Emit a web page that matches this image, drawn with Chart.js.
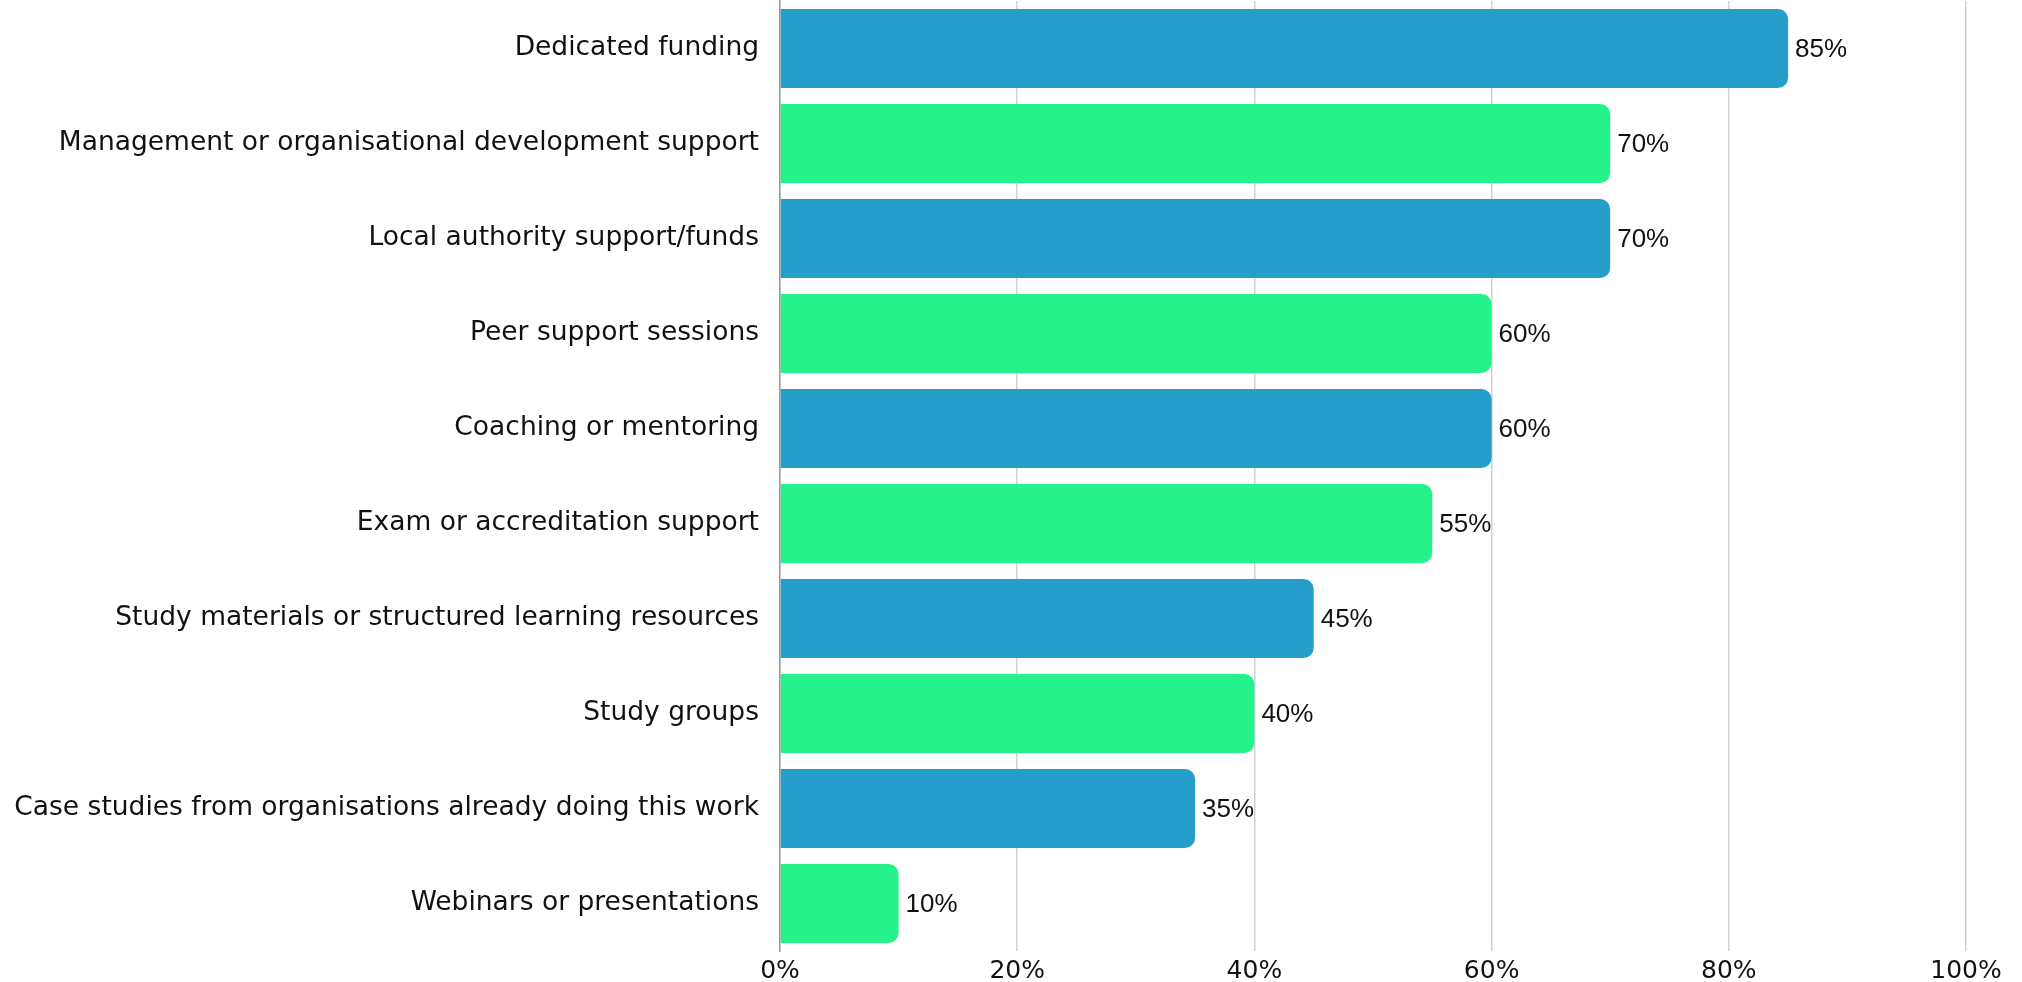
<!DOCTYPE html>
<html>
<head>
<meta charset="utf-8">
<title>Support needed</title>
<script src="https://cdn.jsdelivr.net/npm/chart.js@4.4.1/dist/chart.umd.min.js"></script>
<style>
  html, body { margin: 0; padding: 0; background: #fff; }
  #wrap { width: 2022px; height: 982px; position: relative; }
</style>
</head>
<body>
<div id="wrap"><canvas id="supportChart"></canvas></div>
<script>
// Share of respondents (%) per type of support
const categories = [
    'Dedicated funding',
    'Management or organisational development support',
    'Local authority support/funds',
    'Peer support sessions',
    'Coaching or mentoring',
    'Exam or accreditation support',
    'Study materials or structured learning resources',
    'Study groups',
    'Case studies from organisations already doing this work',
    'Webinars or presentations'
];
const values = [85, 70, 70, 60, 60, 55, 45, 40, 35, 10];
const tickValues = [0, 20, 40, 60, 80, 100];

const BLUE = '#269ecb';
const GREEN = '#26f28c';
const FONT = '"DejaVu Sans", "Open Sans", sans-serif';
const VALUE_FONT = '"Liberation Sans", Arial, sans-serif';

const ctx = document.getElementById('supportChart').getContext('2d');

// Writes the percentage just past the end of each bar
const valueLabels = {
    id: 'valueLabels',
    afterDatasetsDraw(chart) {
        const c = chart.ctx;
        const meta = chart.getDatasetMeta(0);
        c.save();
        c.font = '26px ' + VALUE_FONT;
        c.fillStyle = '#111';
        c.textAlign = 'left';
        c.textBaseline = 'middle';
        meta.data.forEach((bar, i) => {
            c.fillText(values[i] + '%', bar.x + 7, bar.y + 1);
        });
        c.restore();
    }
};

new Chart(ctx, {
    type: 'bar',
    data: {
        labels: categories,
        datasets: [{
            data: values,
            backgroundColor: values.map((v, i) => i % 2 === 0 ? BLUE : GREEN),
            borderWidth: 0,
            borderRadius: 10,
            categoryPercentage: 1,
            barPercentage: 0.83
        }]
    },
    options: {
        indexAxis: 'y',
        responsive: true,
        maintainAspectRatio: false,
        animation: false,
        layout: { padding: { left: 4, right: 56, top: 1, bottom: 0 } },
        plugins: {
            legend: { display: false },
            tooltip: { enabled: false }
        },
        scales: {
            x: {
                min: 0,
                max: 100,
                afterBuildTicks: scale => {
                    scale.ticks = tickValues.map(v => ({ value: v }));
                },
                afterFit: scale => {
                    scale.height = 31;
                    scale.paddingTop = 0;
                    scale.paddingBottom = 0;
                },
                grid: { color: '#d2d2d2', lineWidth: 1.5, drawTicks: false },
                border: { display: false },
                ticks: {
                    padding: 5,
                    color: '#111',
                    font: { family: FONT, size: 25 },
                    callback: v => v + '%'
                }
            },
            y: {
                afterFit: scale => {
                    scale.width = 776;
                    scale.paddingTop = 0;
                    scale.paddingBottom = 0;
                },
                grid: { display: false },
                border: { display: true, color: '#9a9a9a', width: 1.5 },
                ticks: {
                    padding: 13,
                    color: '#111',
                    font: { family: FONT, size: 26.5 }
                }
            }
        }
    },
    plugins: [valueLabels]
});
</script>
</body>
</html>
